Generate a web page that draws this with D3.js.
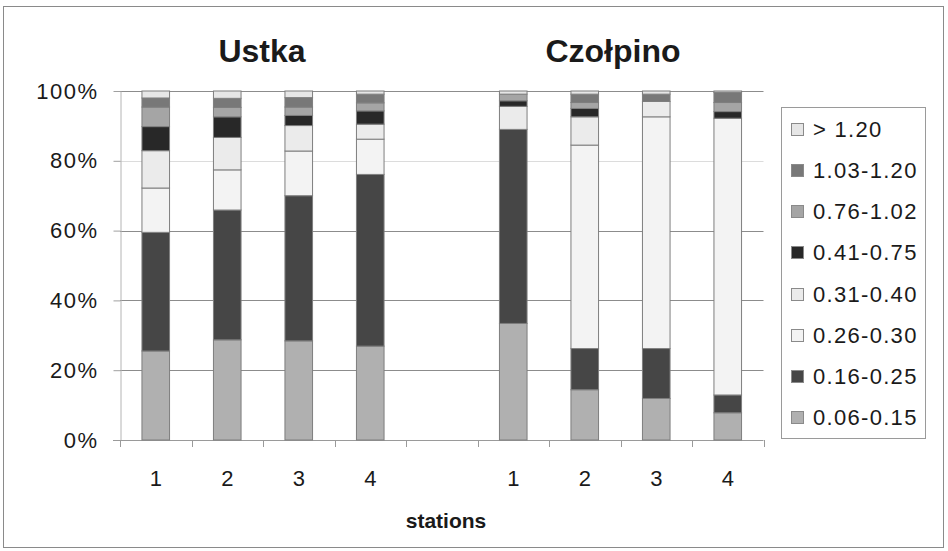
<!DOCTYPE html>
<html>
<head>
<meta charset="utf-8">
<script src="https://cdn.jsdelivr.net/npm/d3@7"></script>
<style>
	body { margin: 0; background: #fff; }
	text { font-family: "Liberation Sans", Arial, sans-serif; fill: #1a1a1a; }
</style>
</head>
<body>
<svg id="chart" width="948" height="551"></svg>
<script>
// slots along the x axis, one empty slot between the two sites
var slots = ['Ustka 1','Ustka 2','Ustka 3','Ustka 4','gap','Czołpino 1','Czołpino 2','Czołpino 3','Czołpino 4'];
var slot_labels = ['1','2','3','4','','1','2','3','4'];
var stations = ['Ustka 1','Ustka 2','Ustka 3','Ustka 4','Czołpino 1','Czołpino 2','Czołpino 3','Czołpino 4'];
var sites = ['Ustka','Czołpino'];

// size classes, bottom of the stack first
var classes = ['0.06-0.15','0.16-0.25','0.26-0.30','0.31-0.40','0.41-0.75','0.76-1.02','1.03-1.20','> 1.20'];
var class_colors = ['#b0b0b0','#464646','#f3f3f3','#ebebeb','#282828','#a5a5a5','#787878','#e6e6e6'];

// percent share per station (Ustka 1-4, Czołpino 1-4)
var c_0615 = [25.5, 28.7, 28.4, 26.9, 33.4, 14.4, 11.9, 7.8];
var c_1625 = [34.0, 37.2, 41.6, 49.2, 55.6, 11.8, 14.3, 5.1];
var c_2630 = [12.7, 11.5, 12.8, 10.1, 0.0, 58.3, 66.4, 79.3];
var c_3140 = [10.7, 9.3, 7.3, 4.3, 6.6, 8.1, 4.4, 0.0];
var c_4175 = [6.9, 5.9, 2.9, 3.8, 1.6, 2.4, 0.0, 1.9];
var c_7602 = [5.6, 2.7, 2.4, 2.3, 1.9, 1.7, 0.0, 2.6];
var c_0320 = [2.6, 2.6, 2.7, 2.5, 0.0, 2.4, 2.1, 2.9];
var c_over = [2.0, 2.1, 1.9, 0.9, 0.9, 0.9, 0.9, 0.4];

var y_ticks = [0, 20, 40, 60, 80, 100];

var series_vals = [c_0615, c_1625, c_2630, c_3140, c_4175, c_7602, c_0320, c_over];
var rows = stations.map(function(s, i)  {
	var r = {station: s};
	classes.forEach(function(c, j)  { r[c] = series_vals[j][i]; });
	return r;
});

var svg_elem = d3.select('#chart');

// outer frame
svg_elem.append('rect').attr('x', 3.5).attr('y', 6.5).attr('width', 940).attr('height', 541)
	.attr('fill', 'none').attr('stroke', '#8a8a8a').attr('stroke-width', 1);

var left = 120, right = 763.5, top_y = 91, bottom_y = 440;

var x_scale = d3.scaleBand().domain(slots).range([left, right]).paddingInner(0.6).paddingOuter(0.3);
var y_scale = d3.scaleLinear().domain([0, 100]).range([bottom_y, top_y]);
var step = x_scale.step();

// gridlines
svg_elem.selectAll('.grid').data(y_ticks.filter(d => d > 0)).enter().append('line').attr('class', 'grid')
	.attr('x1', left).attr('x2', right)
	.attr('y1', d => Math.round(y_scale(d)) + 0.5).attr('y2', d => Math.round(y_scale(d)) + 0.5)
	.attr('stroke', d => d == 80 ? '#dcdcdc' : '#8c8c8c').attr('stroke-width', 1);

// y axis
var y_axis = d3.axisLeft(y_scale).tickValues(y_ticks).tickFormat(d => d + '%').tickSize(7).tickSizeOuter(0);
var y_g = svg_elem.append('g').attr('transform', 'translate(' + (left + 0.5) + ',0)').call(y_axis);
y_g.select('.domain').attr('stroke', '#b4b4b4');
y_g.selectAll('.tick line').attr('stroke', '#a0a0a0');
y_g.selectAll('.tick text').attr('x', -22).attr('font-size', 22).attr('fill', '#1a1a1a')
	.attr('letter-spacing', 1.5)
	.attr('font-family', '"Liberation Sans", Arial, sans-serif');

// x axis: line, ticks on slot boundaries, labels in the middle
var boundaries = d3.range(slots.length + 1).map(k => left + k * step);
svg_elem.append('line').attr('x1', left - 7).attr('x2', right).attr('y1', bottom_y + 0.5).attr('y2', bottom_y + 0.5)
	.attr('stroke', '#9a9a9a');
svg_elem.selectAll('.xtick').data(boundaries).enter().append('line').attr('class', 'xtick')
	.attr('x1', d => Math.round(d) + 0.5).attr('x2', d => Math.round(d) + 0.5)
	.attr('y1', bottom_y).attr('y2', bottom_y + 7).attr('stroke', '#9a9a9a');
svg_elem.selectAll('.xlabel').data(slots).enter().append('text').attr('class', 'xlabel')
	.attr('x', d => x_scale(d) + x_scale.bandwidth() / 2).attr('y', 486)
	.attr('text-anchor', 'middle').attr('font-size', 22)
	.text((d, i) => slot_labels[i]);

// stacked bars
var stack = d3.stack().keys(classes);
var layers = stack(rows);
svg_elem.selectAll('.layer').data(layers).enter().append('g').attr('class', 'layer')
	.attr('fill', (d, i) => class_colors[i])
	.selectAll('rect').data(d => d.filter(p => p[1] - p[0] > 0)).enter().append('rect')
	.attr('x', d => x_scale(d.data.station) + 0.5).attr('width', x_scale.bandwidth() - 1)
	.attr('y', d => y_scale(d[1])).attr('height', d => y_scale(d[0]) - y_scale(d[1]))
	.attr('stroke', '#7e7e7e').attr('stroke-width', 1);

// site titles
svg_elem.selectAll('.site').data(sites).enter().append('text').attr('class', 'site')
	.attr('x', (d, i) => i == 0 ? 262 : 613).attr('y', 62)
	.attr('text-anchor', 'middle').attr('font-size', 32).attr('font-weight', 'bold').attr('fill', '#000')
	.text(d => d);

// axis title
svg_elem.append('text').attr('x', 446).attr('y', 528).attr('text-anchor', 'middle')
	.attr('font-size', 21).attr('font-weight', 'bold').attr('fill', '#000').text('stations');

// legend, top item is the top of the stack
var legend = svg_elem.append('g');
legend.append('rect').attr('x', 781.5).attr('y', 107.5).attr('width', 144).attr('height', 331)
	.attr('fill', '#fff').attr('stroke', '#9a9a9a');
var leg_items = classes.slice().reverse();
var leg_colors = class_colors.slice().reverse();
var leg_y = d3.scalePoint().domain(leg_items).range([129, 417]);
legend.selectAll('.lsw').data(leg_items).enter().append('rect').attr('class', 'lsw')
	.attr('x', 791.5).attr('y', d => Math.round(leg_y(d) - 6) + 0.5).attr('width', 12).attr('height', 12)
	.attr('fill', (d, i) => leg_colors[i]).attr('stroke', '#8a8a8a');
legend.selectAll('.ltx').data(leg_items).enter().append('text').attr('class', 'ltx')
	.attr('x', 813).attr('y', d => leg_y(d) + 8).attr('font-size', 22).attr('letter-spacing', 1.3)
	.text(d => d);
</script>
</body>
</html>
